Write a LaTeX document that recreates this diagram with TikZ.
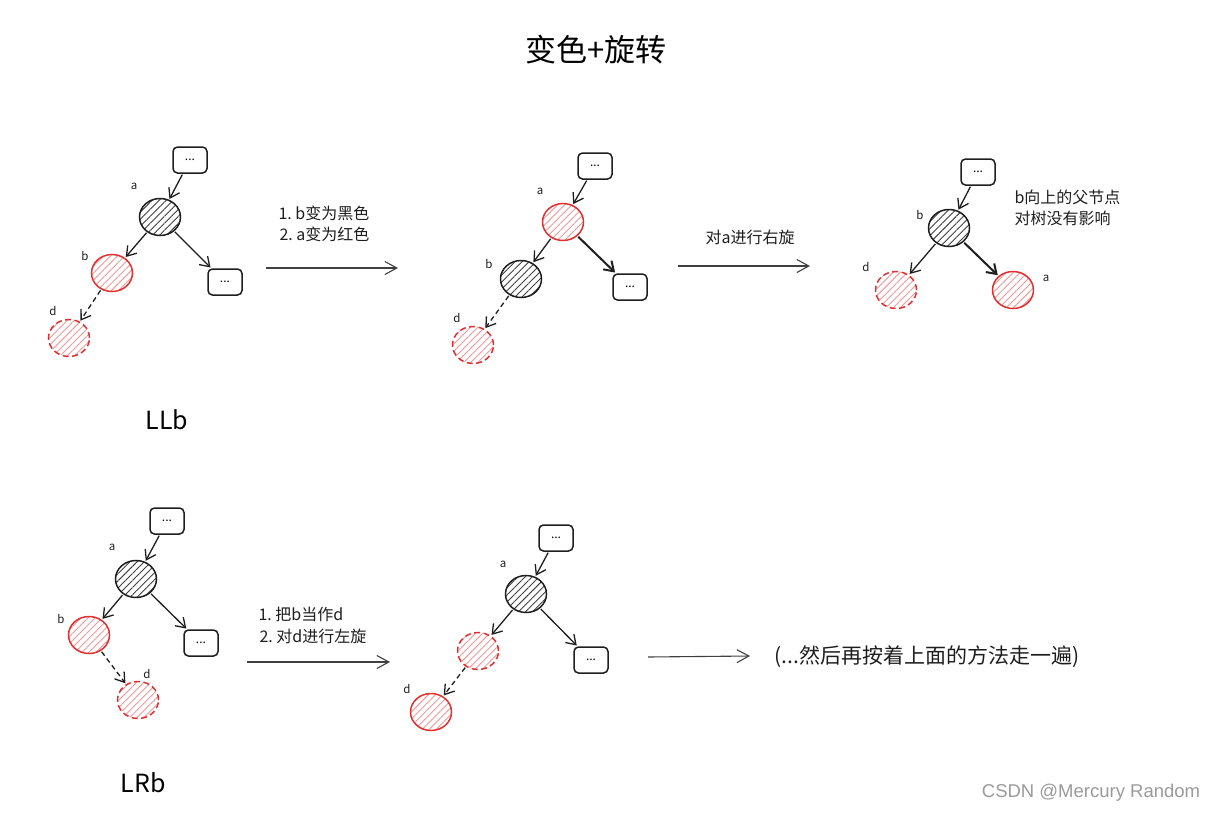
\documentclass[tikz,border=0pt]{standalone}
\usepackage{fontspec}
\setmainfont{Noto Sans CJK SC}
\newfontfamily\wmfont{Liberation Sans}
\usetikzlibrary{arrows.meta,shapes.geometric,patterns.meta}
\definecolor{ink}{HTML}{1E1E1E}
\definecolor{exred}{HTML}{E03131}
\definecolor{wmgray}{HTML}{9A9A9A}
\tikzset{
  box/.style={draw=ink, line width=1.5pt, rounded corners=4.5pt, minimum width=34pt, minimum height=26pt, inner sep=0pt, font=\fontsize{12}{12}\selectfont},
  blknode/.style={ellipse, draw=ink, line width=1.5pt, minimum width=41pt, minimum height=37pt, inner sep=0pt,
    pattern={Lines[angle=45,distance=5pt,line width=0.9pt]}, pattern color=ink!85},
  rednode/.style={ellipse, draw=exred, line width=1.5pt, minimum width=41pt, minimum height=37pt, inner sep=0pt,
    pattern={Lines[angle=45,distance=5pt,line width=0.9pt]}, pattern color=exred!50},
  dashrednode/.style={rednode, dash pattern=on 6pt off 3.5pt},
  lab/.style={font=\fontsize{11.5}{11.5}\selectfont, text=ink},
  txt/.style={font=\fontsize{16}{16}\selectfont, text=ink, anchor=west},
  arr/.style={-{Straight Barb[length=9pt,width=12pt]}, line width=1.3pt, draw=ink, shorten >=1pt, shorten <=1pt},
  darr/.style={arr, dash pattern=on 5pt off 3.5pt},
  thickarr/.style={arr, line width=2pt},
  longarr/.style={-{Straight Barb[length=12pt,width=13pt]}, line width=1.1pt, draw=ink!85},
}
\begin{document}
\begin{tikzpicture}[x=1pt,y=-1pt]
\useasboundingbox (0,0) rectangle (1215,812);
% title
\node (title) at (596,50) {\fontsize{31}{31}\selectfont 变色+旋转};

% ---------- panel 1 ----------
\node[box] (p1t) at (190,160) {...};
\node[blknode] (p1a) at (160,217) {};
\node[rednode] (p1b) at (112,273) {};
\node[box] (p1r) at (225,282) {...};
\node[dashrednode] (p1d) at (69,338) {};
\node[lab] (p1la) at (134,186) {a};
\node[lab] (p1lb) at (85,256) {b};
\node[lab] (p1ld) at (53,311) {d};
\draw[arr] (p1t) -- (p1a);
\draw[arr] (p1a) -- (p1b);
\draw[arr] (p1a) -- (p1r);
\draw[darr] (p1b) -- (p1d);
\node (llb) at (167,420) {\fontsize{25}{25}\selectfont LLb};
\node[txt] (s1a) at (275,213) {1.\ b变为黑色};
\node[txt] (s1b) at (276,234) {2.\ a变为红色};
\coordinate (q1s) at (266,268);
\coordinate (q1e) at (398,268);
\draw[longarr] (q1s) -- (q1e);

% ---------- panel 2 ----------
\node[box] (p2t) at (595,166) {...};
\node[rednode] (p2a) at (563,222) {};
\node[blknode] (p2b) at (521,279) {};
\node[box] (p2r) at (630,287) {...};
\node[dashrednode] (p2d) at (473,345) {};
\node[lab] (p2la) at (540,191) {a};
\node[lab] (p2lb) at (489,264) {b};
\node[lab] (p2ld) at (457,318) {d};
\draw[arr] (p2t) -- (p2a);
\draw[arr] (p2a) -- (p2b);
\draw[thickarr] (p2a) -- (p2r);
\draw[darr] (p2b) -- (p2d);
\node[txt, anchor=center] (s2) at (750,237) {对a进行右旋};
\coordinate (q2s) at (678,266);
\coordinate (q2e) at (810,266);
\draw[longarr] (q2s) -- (q2e);

% ---------- panel 3 ----------
\node[box] (p3t) at (978,172) {...};
\node[blknode] (p3b) at (949,228) {};
\node[dashrednode] (p3d) at (896,290) {};
\node[rednode] (p3a) at (1013,290) {};
\node[lab] (p3lb) at (920,215) {b};
\node[lab] (p3ld) at (866,267) {d};
\node[lab] (p3la) at (1046,278) {a};
\draw[arr] (p3t) -- (p3b);
\draw[arr] (p3b) -- (p3d);
\draw[thickarr] (p3b) -- (p3a);
\node[txt] (s3a) at (1011,197) {b向上的父节点};
\node[txt] (s3b) at (1011,218) {对树没有影响};

% ---------- panel 4 ----------
\node[box] (p4t) at (167,521) {...};
\node[blknode] (p4a) at (136,579) {};
\node[rednode] (p4b) at (89,635) {};
\node[box] (p4r) at (201,643) {...};
\node[dashrednode] (p4d) at (138,700) {};
\node[lab] (p4la) at (112,547) {a};
\node[lab] (p4lb) at (61,619) {b};
\node[lab] (p4ld) at (147,674) {d};
\draw[arr] (p4t) -- (p4a);
\draw[arr] (p4a) -- (p4b);
\draw[arr] (p4a) -- (p4r);
\draw[darr] (p4b) -- (p4d);
\node (lrb) at (143,783) {\fontsize{25}{25}\selectfont LRb};
\node[txt] (s4a) at (255,614) {1.\ 把b当作d};
\node[txt] (s4b) at (256,636) {2.\ 对d进行左旋};
\coordinate (q4s) at (247,662);
\coordinate (q4e) at (390,662);
\draw[longarr] (q4s) -- (q4e);

% ---------- panel 5 ----------
\node[box] (p5t) at (556,538) {...};
\node[blknode] (p5a) at (526,594) {};
\node[dashrednode] (p5b) at (478,651) {};
\node[box] (p5r) at (591,660) {...};
\node[rednode] (p5d) at (431,712) {};
\node[lab] (p5la) at (503,564) {a};
\node[lab] (p5ld) at (407,689) {d};
\draw[arr] (p5t) -- (p5a);
\draw[arr] (p5a) -- (p5b);
\draw[arr] (p5a) -- (p5r);
\draw[darr] (p5b) -- (p5d);
\coordinate (q5s) at (648,657);
\coordinate (q5e) at (750,656);
\draw[longarr] (q5s) -- (q5e);
\node[font=\fontsize{21}{21}\selectfont, text=ink] (s5) at (927,657) {(...然后再按着上面的方法走一遍)};

% watermark
\node[text=wmgray, font=\wmfont\fontsize{18.5}{18.5}\selectfont] (wm) at (1091,793) {CSDN @Mercury Random};
\end{tikzpicture}
\end{document}
